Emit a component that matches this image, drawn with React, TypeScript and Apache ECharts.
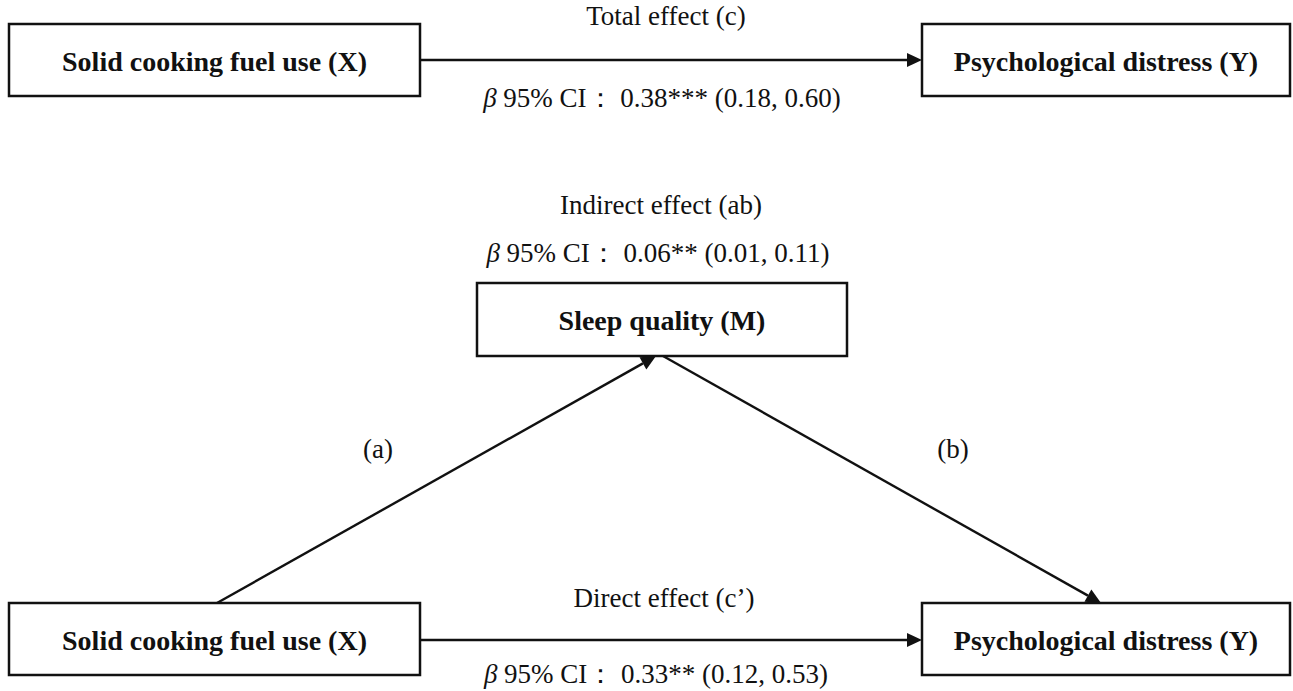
import React, { useEffect, useRef } from "react";
import * as echarts from "echarts";

// ---- Diagram content ----
const nodeLabels = [
  "Solid cooking fuel use (X)",
  "Psychological distress (Y)",
  "Sleep quality (M)",
  "Solid cooking fuel use (X)",
  "Psychological distress (Y)",
];
const effectNames = ["Total effect (c)", "Indirect effect (ab)", "Direct effect (c\u2019)"];
const effectBeta = ["0.38***", "0.06**", "0.33**"];
const effectCI = ["(0.18, 0.60)", "(0.01, 0.11)", "(0.12, 0.53)"];
const pathLabels = ["(a)", "(b)"];

// ---- Layout (pixels) ----
const BOXES = [
  { x: 9, y: 24, w: 411, h: 72 },
  { x: 922, y: 24, w: 368, h: 72 },
  { x: 477, y: 283, w: 370, h: 73 },
  { x: 9, y: 603, w: 411, h: 72 },
  { x: 922, y: 603, w: 368, h: 72 },
];
const ARROWS = [
  { x1: 420, y1: 60, x2: 922, y2: 60 },
  { x1: 217, y1: 603, x2: 656, y2: 356 },
  { x1: 663, y1: 356, x2: 1101, y2: 603 },
  { x1: 420, y1: 640, x2: 922, y2: 640 },
];
const NAME_POS = [
  { x: 666, y: 16 },
  { x: 661, y: 205 },
  { x: 664, y: 598 },
];
const BETA_POS = [
  { x: 662, y: 98 },
  { x: 658, y: 253 },
  { x: 656, y: 674 },
];
const PATH_LABEL_POS = [
  { x: 378, y: 449 },
  { x: 953, y: 449 },
];

const SERIF = "'Liberation Serif', 'Times New Roman', serif";
const INK = "#111";

function arrowElements(a: { x1: number; y1: number; x2: number; y2: number }) {
  const dx = a.x2 - a.x1;
  const dy = a.y2 - a.y1;
  const len = Math.sqrt(dx * dx + dy * dy);
  const ux = dx / len;
  const uy = dy / len;
  const headL = 15;
  const headW = 7;
  const bx = a.x2 - ux * headL;
  const by = a.y2 - uy * headL;
  const px = -uy;
  const py = ux;
  return [
    {
      type: "line",
      shape: { x1: a.x1, y1: a.y1, x2: bx, y2: by },
      style: { stroke: INK, lineWidth: 2.4 },
    },
    {
      type: "polygon",
      shape: {
        points: [
          [a.x2, a.y2],
          [bx + px * headW, by + py * headW],
          [bx - px * headW, by - py * headW],
        ],
      },
      style: { fill: INK },
    },
  ];
}

export default function App() {
  const ref = useRef<HTMLDivElement>(null);
  useEffect(() => {
    if (!ref.current) return;
    const chart = echarts.init(ref.current, undefined, { renderer: "svg" });
    const elements: any[] = [];

    BOXES.forEach((b, i) => {
      elements.push({
        type: "rect",
        shape: { x: b.x, y: b.y, width: b.w, height: b.h },
        style: { fill: "#fff", stroke: INK, lineWidth: 2.5 },
      });
      elements.push({
        type: "text",
        x: b.x + b.w / 2,
        y: b.y + b.h / 2 + 1,
        style: {
          text: nodeLabels[i],
          fontFamily: SERIF,
          fontWeight: "bold",
          fontSize: 28,
          fill: INK,
          textAlign: "center",
          textVerticalAlign: "middle",
        },
      });
    });

    ARROWS.forEach((a) => elements.push(...arrowElements(a)));

    effectNames.forEach((name, i) => {
      elements.push({
        type: "text",
        x: NAME_POS[i].x,
        y: NAME_POS[i].y,
        style: {
          text: name,
          fontFamily: SERIF,
          fontSize: 27,
          fill: INK,
          textAlign: "center",
          textVerticalAlign: "middle",
        },
      });
      elements.push({
        type: "text",
        x: BETA_POS[i].x,
        y: BETA_POS[i].y,
        style: {
          text: "{i|\u03b2} 95% CI\uff1a " + effectBeta[i] + " " + effectCI[i],
          fontFamily: SERIF,
          fontSize: 27,
          fill: INK,
          textAlign: "center",
          textVerticalAlign: "middle",
          rich: {
            i: { fontFamily: SERIF, fontStyle: "italic", fontSize: 27, fill: INK },
          },
        },
      });
    });

    pathLabels.forEach((t, i) => {
      elements.push({
        type: "text",
        x: PATH_LABEL_POS[i].x,
        y: PATH_LABEL_POS[i].y,
        style: {
          text: t,
          fontFamily: SERIF,
          fontSize: 27,
          fill: INK,
          textAlign: "center",
          textVerticalAlign: "middle",
        },
      });
    });

    chart.setOption({
      animation: false,
      backgroundColor: "#fff",
      graphic: { elements },
    });
    return () => chart.dispose();
  }, []);
  return (
    <div
      ref={ref}
      style={{ position: "fixed", left: 0, top: 0, width: 1293, height: 691 }}
    />
  );
}
